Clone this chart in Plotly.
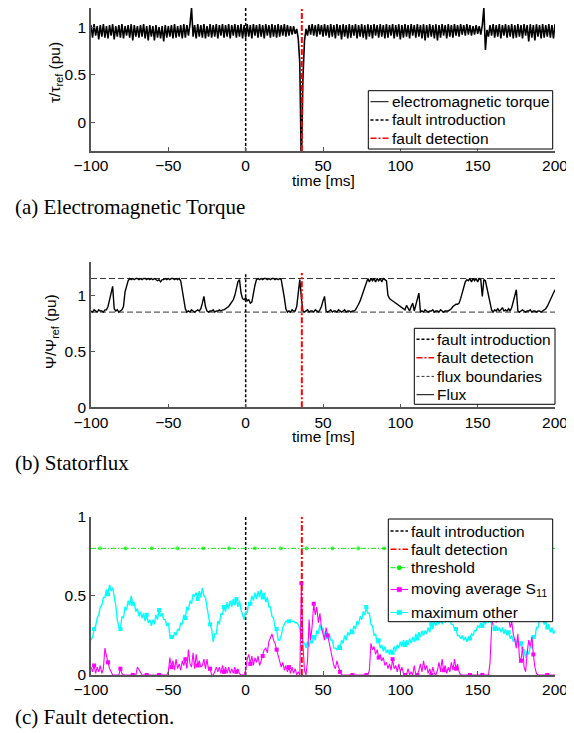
import plotly.graph_objects as go

# ---------------- data (sampled every 1 ms, starting at -100 ms) ----------------
time_start = -100
time_step = 1

torque = [
    1.02, 0.89, 1.03, 0.91, 1.01, 0.87, 1.02, 0.90, 1.03, 0.89,   # -100
    1.01, 0.88, 1.02, 0.91, 1.03, 0.87, 1.01, 0.90, 1.02, 0.89,   # -90
    1.03, 0.88, 1.01, 0.91, 1.02, 0.89, 1.03, 0.86, 1.02, 0.90,   # -80
    1.01, 0.89, 1.02, 0.90, 1.03, 0.88, 1.01, 0.86, 1.02, 0.90,   # -70
    1.01, 0.86, 1.02, 0.89, 1.00, 0.88, 1.01, 0.85, 1.02, 0.89,   # -60
    1.01, 0.90, 1.02, 0.88, 1.03, 0.89, 1.01, 0.90, 1.02, 0.88,   # -50
    1.03, 0.89, 1.02, 0.91, 1.03, 1.20, 0.90, 1.02, 0.88, 1.03,   # -40
    0.90, 1.02, 0.89, 1.03, 0.88, 1.01, 0.90, 1.03, 0.89, 1.02,   # -30
    0.90, 1.03, 0.88, 1.02, 0.91, 1.03, 0.89, 1.02, 0.90, 1.03,   # -20
    0.88, 1.02, 0.91, 1.03, 0.89, 1.02, 0.90, 1.03, 0.88, 1.02,   # -10
    0.89, 1.03, 0.90, 1.02, 0.88, 1.03, 0.91, 1.02, 0.89, 1.03,   # 0
    0.90, 1.02, 0.88, 1.03, 0.91, 1.02, 0.89, 1.03, 0.90, 1.02,   # 10
    0.89, 1.03, 0.90, 1.02, 0.91, 1.03, 0.90, 1.02, 0.91, 1.01,   # 20
    0.92, 1.01, 0.93, 0.98, 0.88, 0.62, -0.50, 0.45, 0.85, 0.98,  # 30
    0.91, 1.02, 0.92, 1.03, 0.91, 1.02, 0.90, 1.03, 0.92, 1.02,   # 40
    0.90, 1.03, 0.91, 1.02, 0.89, 1.03, 0.90, 1.02, 0.88, 1.03,   # 50
    0.91, 1.02, 0.87, 1.03, 0.90, 1.02, 0.88, 1.03, 0.89, 1.02,   # 60
    0.91, 1.03, 0.88, 1.02, 0.90, 1.03, 0.89, 1.02, 0.87, 1.03,   # 70
    0.90, 1.02, 0.88, 1.03, 0.91, 1.02, 0.89, 1.03, 0.90, 1.02,   # 80
    0.88, 1.03, 0.89, 1.02, 0.91, 1.03, 0.88, 1.02, 0.90, 1.03,   # 90
    0.87, 1.02, 0.89, 1.03, 0.90, 1.02, 0.88, 1.03, 0.91, 1.02,   # 100
    0.89, 1.03, 0.90, 1.02, 0.88, 1.03, 0.86, 1.02, 0.89, 1.03,   # 110
    0.90, 1.02, 0.88, 1.03, 0.86, 1.02, 0.89, 1.03, 0.91, 1.02,   # 120
    0.88, 1.03, 0.90, 1.02, 0.89, 1.03, 0.91, 1.02, 0.90, 1.03,   # 130
    0.92, 1.02, 0.91, 1.03, 0.92, 1.02, 0.91, 1.01, 0.92, 1.02,   # 140
    0.93, 1.01, 0.92, 1.02, 1.20, 0.76, 0.97, 0.90, 1.02, 0.91,   # 150
    1.03, 0.89, 1.02, 0.90, 1.03, 0.88, 1.02, 0.91, 1.03, 0.89,   # 160
    1.02, 0.90, 1.03, 0.88, 1.02, 0.89, 1.03, 0.90, 1.02, 0.88,   # 170
    1.03, 0.91, 1.02, 0.85, 1.03, 0.89, 1.02, 0.86, 1.03, 0.90,   # 180
    1.02, 0.88, 1.03, 0.89, 1.02, 0.90, 1.03, 0.89, 1.02, 0.88,   # 190
    1.03,                                                         # 200
]

flux = [
    0.86, 0.85, 0.87, 0.86, 0.85, 0.87, 0.86, 0.86, 0.85, 0.87,   # -100
    0.87, 0.90, 0.95, 1.02, 1.08, 0.88, 0.86, 0.87, 0.85, 0.86,   # -90
    0.87, 0.90, 1.03, 1.08, 1.13, 1.15, 1.14, 1.15, 1.14, 1.15,   # -80
    1.15, 1.14, 1.15, 1.14, 1.15, 1.15, 1.14, 1.15, 1.14, 1.15,   # -70
    1.14, 1.15, 1.14, 1.13, 1.14, 1.12, 1.14, 1.14, 1.15, 1.14,   # -60
    1.15, 1.14, 1.15, 1.15, 1.14, 1.15, 1.14, 1.15, 1.13, 1.04,   # -50
    0.96, 0.88, 0.85, 0.86, 0.85, 0.87, 0.86, 0.85, 0.86, 0.87,   # -40
    0.86, 0.88, 0.93, 0.99, 0.90, 0.86, 0.85, 0.86, 0.86, 0.87,   # -30
    0.85, 0.86, 0.86, 0.87, 0.86, 0.87, 0.87, 0.88, 0.89, 0.90,   # -20
    0.92, 0.94, 0.96, 1.00, 1.06, 1.12, 1.14, 1.02, 0.97, 0.96,   # -10
    0.98, 0.95, 0.96, 0.93, 0.94, 1.02, 1.09, 1.14, 1.15, 1.14,   # 0
    1.15, 1.14, 1.15, 1.15, 1.14, 1.15, 1.14, 1.15, 1.15, 1.14,   # 10
    1.15, 1.14, 1.15, 1.14, 1.07, 0.98, 0.88, 0.85, 0.86, 0.85,   # 20
    0.87, 0.86, 0.86, 0.90, 1.02, 1.14, 0.98, 0.86, 0.85, 0.86,   # 30
    0.87, 0.85, 0.86, 0.86, 0.85, 0.87, 0.86, 0.85, 0.87, 0.90,   # 40
    0.95, 0.99, 0.86, 0.85, 0.86, 0.87, 0.85, 0.86, 0.86, 0.85,   # 50
    0.87, 0.86, 0.85, 0.86, 0.87, 0.85, 0.86, 0.86, 0.85, 0.86,   # 60
    0.86, 0.87, 0.89, 0.92, 0.95, 0.99, 1.03, 1.06, 1.12, 1.15,   # 70
    1.12, 1.15, 1.13, 1.15, 1.12, 1.15, 1.13, 1.15, 1.12, 1.15,   # 80
    1.14, 1.13, 1.00, 0.97, 0.96, 0.95, 0.94, 0.93, 0.92, 0.91,   # 90
    0.90, 0.89, 0.88, 0.87, 0.91, 0.88, 0.86, 0.90, 0.93, 0.86,   # 100
    0.92, 0.97, 1.02, 0.85, 0.86, 0.85, 0.87, 0.86, 0.85, 0.86,   # 110
    0.86, 0.87, 0.85, 0.86, 0.86, 0.85, 0.87, 0.86, 0.85, 0.86,   # 120
    0.86, 0.86, 0.87, 0.88, 0.90, 0.91, 0.92, 0.92, 0.93, 0.97,   # 130
    1.03, 1.08, 1.12, 1.14, 1.13, 1.15, 1.12, 1.15, 1.13, 1.15,   # 140
    1.12, 1.15, 1.14, 0.99, 1.14, 1.13, 1.06, 1.01, 0.92, 0.87,   # 150
    0.85, 0.87, 0.86, 0.88, 0.86, 0.87, 0.89, 0.86, 0.87, 0.86,   # 160
    0.88, 0.86, 0.89, 0.95, 1.00, 1.05, 0.86, 0.85, 0.86, 0.87,   # 170
    0.86, 0.85, 0.86, 0.86, 0.87, 0.85, 0.86, 0.86, 0.85, 0.86,   # 180
    0.86, 0.85, 0.86, 0.87, 0.88, 0.90, 0.93, 0.96, 0.99, 1.02,   # 190
    1.05,                                                         # 200
]

s11_moving_average = [
    0.05, 0.02, 0.06, 0.01, 0.05, 0.02, 0.06, 0.01, 0.04, 0.17,   # -100
    0.12, 0.08, 0.04, 0.02, 0.00, 0.00, 0.00, 0.00, 0.00, 0.04,   # -90
    0.01, 0.00, 0.00, 0.00, 0.00, 0.00, 0.00, 0.00, 0.00, 0.00,   # -80
    0.05, 0.03, 0.01, 0.00, 0.00, 0.00, 0.00, 0.00, 0.00, 0.00,   # -70
    0.00, 0.00, 0.00, 0.00, 0.00, 0.00, 0.00, 0.00, 0.00, 0.00,   # -60
    0.02, 0.11, 0.05, 0.09, 0.03, 0.10, 0.04, 0.07, 0.03, 0.09,   # -50
    0.06, 0.10, 0.04, 0.16, 0.07, 0.05, 0.14, 0.04, 0.13, 0.06,   # -40
    0.09, 0.05, 0.06, 0.10, 0.04, 0.10, 0.03, 0.04, 0.00, 0.00,   # -30
    0.02, 0.05, 0.02, 0.05, 0.01, 0.06, 0.02, 0.05, 0.01, 0.05,   # -20
    0.01, 0.04, 0.01, 0.05, 0.02, 0.04, 0.01, 0.00, 0.00, 0.00,   # -10
    0.03, 0.10, 0.13, 0.07, 0.12, 0.06, 0.11, 0.08, 0.12, 0.06,   # 0
    0.09, 0.12, 0.16, 0.17, 0.14, 0.21, 0.24, 0.26, 0.22, 0.20,   # 10
    0.16, 0.12, 0.09, 0.05, 0.08, 0.03, 0.06, 0.02, 0.05, 0.01,   # 20
    0.05, 0.01, 0.04, 0.00, 0.02, 0.00, 0.58, 0.20, 0.03, 0.00,   # 30
    0.09, 0.35, 0.22, 0.31, 0.45, 0.38, 0.43, 0.33, 0.39, 0.30,   # 40
    0.26, 0.22, 0.30, 0.25, 0.21, 0.16, 0.09, 0.06, 0.04, 0.09,   # 50
    0.05, 0.02, 0.00, 0.00, 0.00, 0.00, 0.00, 0.00, 0.00, 0.00,   # 60
    0.00, 0.00, 0.00, 0.00, 0.00, 0.00, 0.00, 0.00, 0.00, 0.00,   # 70
    0.03, 0.20, 0.16, 0.18, 0.13, 0.16, 0.11, 0.13, 0.09, 0.11,   # 80
    0.06, 0.08, 0.04, 0.07, 0.03, 0.10, 0.04, 0.06, 0.02, 0.07,   # 90
    0.02, 0.05, 0.01, 0.00, 0.00, 0.04, 0.00, 0.02, 0.00, 0.06,   # 100
    0.00, 0.00, 0.03, 0.07, 0.02, 0.09, 0.03, 0.06, 0.01, 0.04,   # 110
    0.00, 0.05, 0.01, 0.00, 0.03, 0.08, 0.02, 0.10, 0.03, 0.06,   # 120
    0.01, 0.05, 0.02, 0.08, 0.03, 0.10, 0.04, 0.07, 0.02, 0.00,   # 130
    0.00, 0.00, 0.00, 0.00, 0.00, 0.00, 0.00, 0.00, 0.00, 0.00,   # 140
    0.00, 0.00, 0.00, 0.00, 0.00, 0.00, 0.00, 0.00, 0.08, 0.30,   # 150
    0.36, 0.42, 0.33, 0.45, 0.37, 0.41, 0.34, 0.40, 0.36, 0.43,   # 160
    0.36, 0.30, 0.34, 0.26, 0.22, 0.17, 0.26, 0.11, 0.09, 0.18,   # 170
    0.05, 0.02, 0.14, 0.22, 0.18, 0.24, 0.13, 0.05, 0.01, 0.00,   # 180
    0.00, 0.00, 0.00, 0.00, 0.00, 0.00, 0.00, 0.00, 0.00, 0.00,   # 190
    0.00,                                                         # 200
]

maximum_other = [
    0.22, 0.24, 0.29, 0.31, 0.36, 0.38, 0.43, 0.44, 0.49, 0.49,   # -100
    0.54, 0.51, 0.57, 0.53, 0.55, 0.49, 0.44, 0.35, 0.30, 0.29,   # -90
    0.37, 0.36, 0.43, 0.41, 0.47, 0.44, 0.50, 0.45, 0.45, 0.40,   # -80
    0.42, 0.37, 0.40, 0.36, 0.39, 0.34, 0.38, 0.33, 0.35, 0.31,   # -70
    0.35, 0.32, 0.38, 0.35, 0.41, 0.37, 0.39, 0.35, 0.35, 0.31,   # -60
    0.33, 0.25, 0.24, 0.23, 0.27, 0.25, 0.29, 0.28, 0.33, 0.32,   # -50
    0.38, 0.36, 0.43, 0.41, 0.47, 0.45, 0.51, 0.50, 0.52, 0.48,   # -40
    0.53, 0.49, 0.55, 0.50, 0.49, 0.42, 0.37, 0.32, 0.29, 0.21,   # -30
    0.26, 0.26, 0.34, 0.32, 0.39, 0.38, 0.43, 0.40, 0.46, 0.42,   # -20
    0.47, 0.43, 0.48, 0.44, 0.48, 0.43, 0.47, 0.41, 0.38, 0.35,   # -10
    0.40, 0.39, 0.46, 0.45, 0.50, 0.47, 0.52, 0.48, 0.53, 0.49,   # 0
    0.54, 0.49, 0.52, 0.46, 0.49, 0.43, 0.43, 0.37, 0.36, 0.30,   # 10
    0.29, 0.22, 0.22, 0.25, 0.30, 0.32, 0.34, 0.34, 0.34, 0.34,   # 20
    0.34, 0.34, 0.33, 0.33, 0.32, 0.29, 0.28, 0.21, 0.20, 0.17,   # 30
    0.21, 0.18, 0.22, 0.20, 0.24, 0.22, 0.28, 0.26, 0.32, 0.28,   # 40
    0.30, 0.24, 0.27, 0.24, 0.26, 0.22, 0.22, 0.17, 0.17, 0.16,   # 50
    0.19, 0.17, 0.22, 0.20, 0.25, 0.22, 0.27, 0.25, 0.29, 0.27,   # 60
    0.31, 0.29, 0.34, 0.32, 0.37, 0.35, 0.40, 0.38, 0.43, 0.39,   # 70
    0.39, 0.32, 0.31, 0.25, 0.26, 0.20, 0.22, 0.17, 0.19, 0.15,   # 80
    0.18, 0.14, 0.16, 0.13, 0.16, 0.14, 0.18, 0.15, 0.19, 0.17,   # 90
    0.21, 0.18, 0.22, 0.19, 0.22, 0.19, 0.23, 0.20, 0.24, 0.21,   # 100
    0.26, 0.23, 0.27, 0.24, 0.28, 0.25, 0.28, 0.26, 0.30, 0.27,   # 110
    0.32, 0.29, 0.34, 0.31, 0.35, 0.32, 0.35, 0.32, 0.36, 0.33,   # 120
    0.36, 0.34, 0.35, 0.32, 0.32, 0.29, 0.29, 0.25, 0.25, 0.23,   # 130
    0.25, 0.22, 0.24, 0.21, 0.24, 0.23, 0.26, 0.25, 0.28, 0.28,   # 140
    0.31, 0.30, 0.33, 0.31, 0.34, 0.32, 0.35, 0.33, 0.36, 0.32,   # 150
    0.33, 0.29, 0.31, 0.28, 0.30, 0.27, 0.30, 0.26, 0.29, 0.25,   # 160
    0.27, 0.23, 0.25, 0.21, 0.23, 0.20, 0.22, 0.18, 0.20, 0.16,   # 170
    0.16, 0.11, 0.15, 0.13, 0.18, 0.17, 0.24, 0.23, 0.30, 0.30,   # 180
    0.36, 0.35, 0.36, 0.32, 0.34, 0.30, 0.32, 0.27, 0.30, 0.26,   # 190
    0.28,                                                         # 200
]

fault_introduction_t = 0.0
fault_detection_t = 36.3
flux_upper = 1.15
flux_lower = 0.85
threshold = 0.8
threshold_marker_t = [-94.2, -77.5, -60.8, -44.1, -27.4, -10.7, 6.0, 22.7, 39.4,
                      56.1, 72.8, 89.5, 106.2, 122.9, 139.6, 156.3, 173.0, 189.7]
square_marker_t = [-98, -89, -81, -73, -64, -56, -48, -39, -31, -23, -14, -6, 3, 11,
                   20, 28, 36, 44, 53, 61, 69, 78, 86, 95, 103, 111, 120, 128, 136,
                   145, 153, 161, 170, 178, 186, 195]
x_range = [-100, 200]
x_ticks = [-100, -50, 0, 50, 100, 150, 200]
y_ticks = [0, 0.5, 1]
torque_range = [-0.3, 1.2]
flux_range = [0, 1.3]
detect_range = [0, 1]
event_line_top_flux = 1.2

# ---------------- helpers ----------------
def times(series):
    return [time_start + i * time_step for i in range(len(series))]

def pick(series, ts):
    return [series[int(round((tt - time_start) / time_step))] for tt in ts]

SANS = "Liberation Sans, Arial, Helvetica, sans-serif"
SERIF = "Liberation Serif, Times New Roman, serif"
FS = 15.5
CAP_FS = 21
BLACK_DASH = "3px,2px"
RED_DASHDOT = "6px,2px,2px,2px"
GREY_DASH = "6px,3px"
GREEN_DASHDOT = "5px,2px,1px,2px"
RED = "#ff0000"
GREEN = "#00ee00"
MAGENTA = "#ff00ff"
CYAN = "#00ffff"

# page: the figure sits 8 px in from the window's top-left corner
OFF = 8
W, H = 574 - OFF, 733 - OFF

def px(x):
    return (x - OFF) / W

def py(y):
    return min(1.0, max(0.0, 1 - (y - OFF) / H))

fig = go.Figure()

# ---------- (a) Electromagnetic torque ----------
fig.add_trace(go.Scatter(x=times(torque), y=torque, mode="lines", name="electromagnetic torque",
                         line=dict(color="black", width=1.6), xaxis="x", yaxis="y"))
fig.add_trace(go.Scatter(x=[fault_introduction_t] * 2, y=torque_range, mode="lines",
                         name="fault introduction",
                         line=dict(color="black", width=1.5, dash=BLACK_DASH),
                         xaxis="x", yaxis="y"))
fig.add_trace(go.Scatter(x=[fault_detection_t] * 2, y=torque_range, mode="lines",
                         name="fault detection",
                         line=dict(color=RED, width=2, dash=RED_DASHDOT),
                         xaxis="x", yaxis="y"))

# ---------- (b) Stator flux ----------
fig.add_trace(go.Scatter(x=[x_range[0], x_range[1], None, x_range[0], x_range[1]],
                         y=[flux_upper, flux_upper, None, flux_lower, flux_lower],
                         mode="lines", name="flux boundaries",
                         line=dict(color="#333333", width=1, dash=GREY_DASH),
                         xaxis="x2", yaxis="y2"))
fig.add_trace(go.Scatter(x=times(flux), y=flux, mode="lines", name="Flux",
                         line=dict(color="black", width=1.4), xaxis="x2", yaxis="y2"))
fig.add_trace(go.Scatter(x=[fault_introduction_t] * 2, y=[flux_range[0], event_line_top_flux],
                         mode="lines", name="fault introduction",
                         line=dict(color="black", width=1.5, dash=BLACK_DASH),
                         xaxis="x2", yaxis="y2"))
fig.add_trace(go.Scatter(x=[fault_detection_t] * 2, y=[flux_range[0], event_line_top_flux],
                         mode="lines", name="fault detection",
                         line=dict(color=RED, width=2, dash=RED_DASHDOT),
                         xaxis="x2", yaxis="y2"))

# ---------- (c) Fault detection ----------
fig.add_trace(go.Scatter(x=[fault_introduction_t] * 2, y=detect_range, mode="lines",
                         name="fault introduction",
                         line=dict(color="black", width=1.5, dash=BLACK_DASH),
                         xaxis="x3", yaxis="y3"))
thr_x = [x_range[0]] + threshold_marker_t + [x_range[1]]
thr_sizes = [0] + [5] * len(threshold_marker_t) + [0]
fig.add_trace(go.Scatter(x=thr_x, y=[threshold] * len(thr_x), mode="lines+markers",
                         name="threshold",
                         line=dict(color=GREEN, width=1, dash=GREEN_DASHDOT),
                         marker=dict(color=GREEN, size=thr_sizes, symbol="circle"),
                         xaxis="x3", yaxis="y3"))
fig.add_trace(go.Scatter(x=times(maximum_other), y=maximum_other, mode="lines",
                         name="maximum other",
                         line=dict(color=CYAN, width=1.4), xaxis="x3", yaxis="y3"))
fig.add_trace(go.Scatter(x=square_marker_t, y=pick(maximum_other, square_marker_t),
                         mode="markers", name="maximum other (markers)",
                         marker=dict(color=CYAN, size=4, symbol="square"),
                         xaxis="x3", yaxis="y3"))
fig.add_trace(go.Scatter(x=times(s11_moving_average), y=s11_moving_average, mode="lines",
                         name="moving average S11",
                         line=dict(color=MAGENTA, width=1.1), xaxis="x3", yaxis="y3"))
fig.add_trace(go.Scatter(x=square_marker_t, y=pick(s11_moving_average, square_marker_t),
                         mode="markers", name="moving average S11 (markers)",
                         marker=dict(color=MAGENTA, size=4, symbol="square"),
                         xaxis="x3", yaxis="y3", cliponaxis=False))
fig.add_trace(go.Scatter(x=[fault_detection_t] * 2, y=detect_range, mode="lines",
                         name="fault detection",
                         line=dict(color=RED, width=2, dash=RED_DASHDOT),
                         xaxis="x3", yaxis="y3"))

# ---------------- layout ----------------
X_DOM = [px(91), px(555)]

def ydom(top_px, bottom_px):
    return [py(bottom_px), py(top_px)]

axis_common = dict(showline=True, linecolor="#555555", linewidth=1.5, ticks="inside",
                   ticklen=4, tickcolor="#555555", showgrid=False, zeroline=False,
                   automargin=False, tickfont=dict(family=SANS, size=FS, color="black"))

def xaxis_cfg(anchor):
    return dict(domain=X_DOM, range=x_range, tickvals=x_ticks, anchor=anchor, **axis_common)

def yaxis_cfg(anchor, dom, rng):
    return dict(domain=dom, range=rng, tickvals=y_ticks, anchor=anchor, **axis_common)

fig.update_layout(
    width=W, height=H, margin=dict(l=0, r=0, t=0, b=0, autoexpand=False),
    paper_bgcolor="white", plot_bgcolor="white", showlegend=False,
    font=dict(family=SANS, size=FS, color="black"),
    xaxis=xaxis_cfg("y"), yaxis=yaxis_cfg("x", ydom(5, 151), torque_range),
    xaxis2=xaxis_cfg("y2"), yaxis2=yaxis_cfg("x2", ydom(261.7, 407.3), flux_range),
    xaxis3=xaxis_cfg("y3"), yaxis3=yaxis_cfg("x3", ydom(516.7, 675), detect_range),
)

def ann(text, x_px, y_px, size=FS, family=SANS, angle=0, xanchor="center"):
    fig.add_annotation(text=text, x=px(x_px), y=py(y_px), xref="paper", yref="paper",
                       showarrow=False, textangle=angle, xanchor=xanchor, yanchor="middle",
                       font=dict(family=family, size=size, color="black"))

# ---------- legend boxes (drawn on the page, above the data) ----------
def legend_box(x0, x1, y0, y1, rows, sample_x0, sample_x1, text_x):
    fig.add_shape(type="rect", xref="paper", yref="paper", layer="above",
                  x0=px(x0), x1=px(x1), y0=py(y1), y1=py(y0),
                  line=dict(color="black", width=1), fillcolor="white")
    for label, ry, color, dash, width, marker in rows:
        fig.add_shape(type="line", xref="paper", yref="paper", layer="above",
                      x0=px(sample_x0), x1=px(sample_x1), y0=py(ry), y1=py(ry),
                      line=dict(color=color, width=width, dash=dash))
        if marker:
            cx = (sample_x0 + sample_x1) / 2
            r = 2.2
            fig.add_shape(type="circle" if marker == "circle" else "rect",
                          xref="paper", yref="paper", layer="above",
                          x0=px(cx - r), x1=px(cx + r), y0=py(ry + r), y1=py(ry - r),
                          line=dict(color=color, width=0.5), fillcolor=color)
        ann(label, text_x, ry, xanchor="left")

legend_box(368.3, 552.7, 90.7, 149, [
    ("electromagnetic torque", 101.7, "black", "solid", 1, None),
    ("fault introduction", 120.0, "black", BLACK_DASH, 1.5, None),
    ("fault detection", 138.3, RED, RED_DASHDOT, 1.5, None),
], 370.5, 388.5, 389.5)

legend_box(414.3, 555, 328.3, 404.3, [
    ("fault introduction", 339.3, "black", BLACK_DASH, 1.5, None),
    ("fault detection", 357.7, RED, RED_DASHDOT, 1.5, None),
    ("flux boundaries", 376.4, "#333333", "3px,2px", 1, None),
    ("Flux", 394.7, "black", "solid", 1, None),
], 416.5, 434, 434.5)

legend_box(388.3, 552.7, 519, 621.7, [
    ("fault introduction", 531.0, "black", BLACK_DASH, 1.5, None),
    ("fault detection", 549.3, RED, RED_DASHDOT, 1.5, None),
    ("threshold", 567.7, GREEN, GREEN_DASHDOT, 1, "circle"),
    ("moving average S<sub>11</sub>", 589.5, MAGENTA, "solid", 1, "square"),
    ("maximum other", 612.5, CYAN, "solid", 1, "square"),
], 390.5, 408, 408.5)

# ---------- axis titles and captions ----------
ann("time [ms]", 323, 181)
ann("time [ms]", 323, 436)
ann("τ/τ<sub>ref</sub> (pu)", 55, 72, angle=-90)
ann("Ψ/Ψ<sub>ref</sub> (pu)", 52, 332, angle=-90)
ann("(a) Electromagnetic Torque", 13, 207, size=CAP_FS, family=SERIF, xanchor="left")
ann("(b) Statorflux", 13, 462.5, size=CAP_FS, family=SERIF, xanchor="left")
ann("(c) Fault detection.", 13, 717, size=CAP_FS, family=SERIF, xanchor="left")

fig.write_html("out.html")
